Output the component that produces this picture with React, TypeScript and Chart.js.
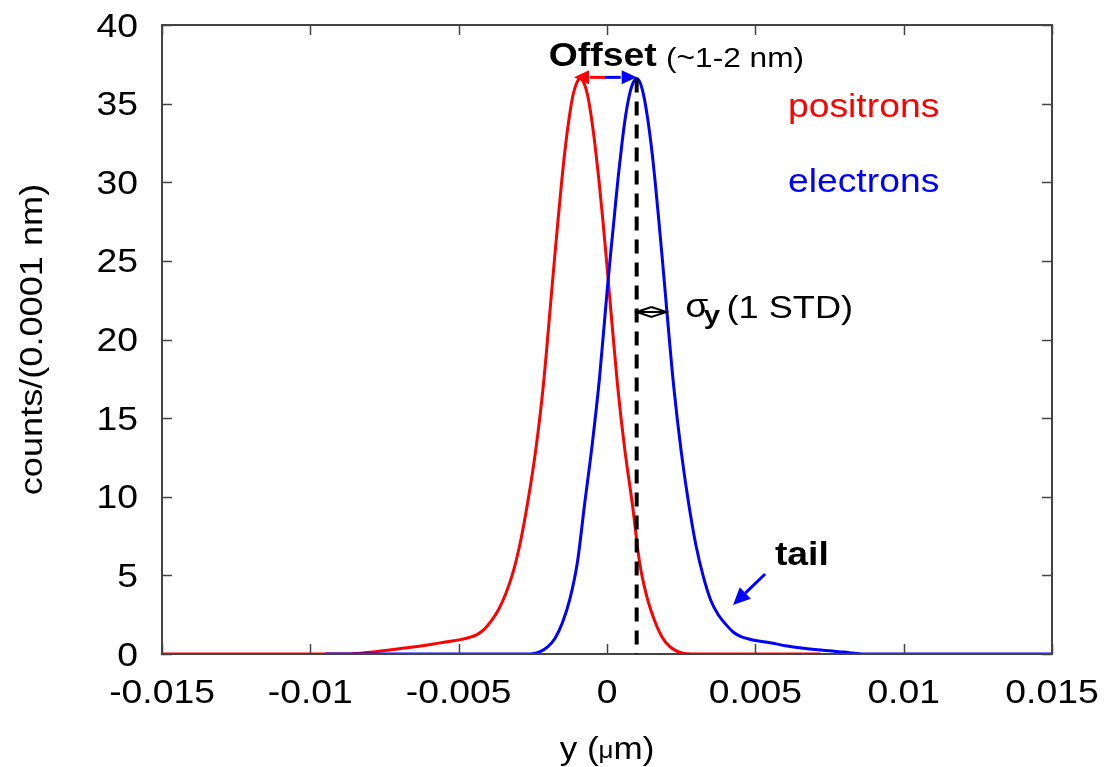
import React, { useEffect, useRef } from "react";
import { Chart, registerables } from "chart.js";

Chart.register(...registerables);

// ---------- data (x in µm, y in counts/(0.0001 nm)) ----------
const POSITRON_X = [
  -0.015, -0.00865, -0.0084, -0.0079, -0.0074, -0.0069, -0.0064, -0.0059, -0.0054, -0.0049,
  -0.00465, -0.0044, -0.00415, -0.0039, -0.00365, -0.0034, -0.00315, -0.0029, -0.00265, -0.0024,
  -0.00215, -0.0019, -0.001775, -0.00165, -0.001525, -0.0014, -0.001275, -0.00115, -0.001025, -0.0009,
  -0.000775, -0.00065, -0.000525, -0.0004, -0.000275, -0.00015, -0.000025, 0.0001, 0.00035, 0.0006,
  0.00085, 0.0011, 0.00135, 0.0016, 0.00185, 0.0021, 0.00235, 0.0026, 0.00285, 0.0072,
];
const POSITRON_Y = [
  0, 0, 0.04, 0.13, 0.24, 0.36, 0.48, 0.62, 0.78, 0.93,
  1.05, 1.22, 1.55, 2.1, 2.85, 3.9, 5.3, 7.3, 9.9, 13.0,
  17.0, 22.3, 25.0, 27.6, 30.1, 32.3, 34.1, 35.5, 36.3, 36.6,
  36.3, 35.5, 34.1, 32.3, 30.2, 27.8, 25.2, 22.5, 17.2, 13.0,
  9.6, 5.8, 3.6, 2.15, 1.1, 0.5, 0.18, 0.03, 0, 0,
];

const ELECTRON_X = [
  -0.0095, -0.00275, -0.0025, -0.00225, -0.002, -0.00175, -0.0015, -0.00125, -0.001, -0.00075,
  -0.0005, -0.00025, 0, 0.000125, 0.00025, 0.000375, 0.0005, 0.000625, 0.00075, 0.000875,
  0.001, 0.001125, 0.00125, 0.001375, 0.0015, 0.001625, 0.00175, 0.001875, 0.002, 0.00225,
  0.0025, 0.00275, 0.003, 0.00325, 0.0035, 0.00375, 0.004, 0.00425, 0.0045, 0.00475,
  0.005, 0.0055, 0.006, 0.0065, 0.007, 0.0075, 0.008, 0.00825, 0.0085, 0.00875,
  0.015,
];
const ELECTRON_Y = [
  0, 0, 0.02, 0.15, 0.45, 1.0, 2.0, 3.5, 5.8, 9.6,
  13.3, 17.6, 23.0, 25.5, 27.9, 30.3, 32.4, 34.2, 35.5, 36.3,
  36.6, 36.3, 35.4, 34.0, 32.2, 30.0, 27.5, 24.9, 22.2, 17.0,
  12.9, 9.6, 6.9, 4.9, 3.4, 2.5, 1.9, 1.4, 1.12, 0.97,
  0.86, 0.72, 0.53, 0.4, 0.29, 0.2, 0.12, 0.07, 0.02, 0,
  0,
];

const X_TICKS = [-0.015, -0.01, -0.005, 0, 0.005, 0.01, 0.015];
const X_TICK_LABELS = ["-0.015", "-0.01", "-0.005", "0", "0.005", "0.01", "0.015"];
const Y_TICKS = [0, 5, 10, 15, 20, 25, 30, 35, 40];
const Y_TICK_LABELS = ["0", "5", "10", "15", "20", "25", "30", "35", "40"];

const X_TITLE_PARTS = ["y (", "\u03bc", "m)"];
const Y_TITLE = "counts/(0.0001 nm)";
const SERIES_NAMES = ["positrons", "electrons"];

// annotations, in data coordinates
const OFFSET_ARROW = { left: -0.00111, mid: -0.00007, right: 0.001, y: 36.67 };
const DASH_LINE = { x: 0.001, y0: 0, y1: 36.6 };
const SIGMA_ARROW = { x0: 0.001, x1: 0.002, y: 21.75 };
const TAIL_ARROW = { x0: 0.00533, y0: 5.09, x1: 0.00425, y1: 3.12 };
const OFFSET_LABEL = { x: -0.00196, y: 37.39, text: "Offset" };
const OFFSET_NOTE = { x: 0.00199, y: 37.3, text: "(~1-2 nm)" };
const POS_LABEL = { x: 0.0061, y: 34.15 };
const ELE_LABEL = { x: 0.0061, y: 29.38 };
const SIGMA_LABEL = { x: 0.00264, y: 21.45, sub: { x: 0.00326, y: 20.97 }, rest: { x: 0.00403, y: 21.34, text: "(1 STD)" } };
const TAIL_LABEL = { x: 0.00566, y: 5.66, text: "tail" };

const RED = "#ff0000";
const BLUE = "#0000ff";
const FRAME = "#444444";
const FF = '"Liberation Sans", Arial, Helvetica, sans-serif';
const SX = 1.13;

function stretchText(ctx: CanvasRenderingContext2D, s: string, x: number, y: number, font: string, color: string, align = "left") {
  ctx.save();
  ctx.font = font;
  ctx.fillStyle = color;
  ctx.textBaseline = "alphabetic";
  ctx.textAlign = "left";
  const w = ctx.measureText(s).width * SX;
  let x0 = x;
  if (align === "center") x0 = x - w / 2;
  else if (align === "right") x0 = x - w;
  ctx.translate(x0, y);
  ctx.scale(SX, 1);
  ctx.fillText(s, 0, 0);
  ctx.restore();
  return w;
}

function filledHead(ctx: CanvasRenderingContext2D, tx: number, ty: number, fx: number, fy: number, len: number, half: number, color: string) {
  const a = Math.atan2(ty - fy, tx - fx);
  const bx = tx - len * Math.cos(a);
  const by = ty - len * Math.sin(a);
  ctx.save();
  ctx.fillStyle = color;
  ctx.beginPath();
  ctx.moveTo(tx, ty);
  ctx.lineTo(bx + half * Math.sin(a), by - half * Math.cos(a));
  ctx.lineTo(bx - half * Math.sin(a), by + half * Math.cos(a));
  ctx.closePath();
  ctx.fill();
  ctx.restore();
  return { bx, by };
}

const framePlugin = {
  id: "frameTicks",
  afterDatasetsDraw(chart: any) {
    const { ctx, chartArea: a, scales } = chart;
    const xs = scales.x;
    const ys = scales.y;
    ctx.save();
    ctx.strokeStyle = FRAME;
    ctx.lineWidth = 1.5;
    const L = 10;
    ctx.beginPath();
    X_TICKS.forEach((v) => {
      const px = Math.round(xs.getPixelForValue(v)) + 0.5;
      ctx.moveTo(px, a.bottom);
      ctx.lineTo(px, a.bottom - L);
      ctx.moveTo(px, a.top);
      ctx.lineTo(px, a.top + L);
    });
    Y_TICKS.forEach((v) => {
      const py = Math.round(ys.getPixelForValue(v)) + 0.5;
      ctx.moveTo(a.left, py);
      ctx.lineTo(a.left + L, py);
      ctx.moveTo(a.right, py);
      ctx.lineTo(a.right - L, py);
    });
    ctx.stroke();
    ctx.lineWidth = 2;
    ctx.strokeRect(a.left, a.top, a.right - a.left, a.bottom - a.top);
    ctx.restore();

    // tick labels
    const tickFont = `33px ${FF}`;
    X_TICKS.forEach((v, i) => {
      stretchText(ctx, X_TICK_LABELS[i], xs.getPixelForValue(v), a.bottom + 49, tickFont, "#000", "center");
    });
    Y_TICKS.forEach((v, i) => {
      stretchText(ctx, Y_TICK_LABELS[i], a.left - 24, ys.getPixelForValue(v) + 11.5, tickFont, "#000", "right");
    });

    // axis titles
    const cx = (a.left + a.right) / 2;
    const big = `31px ${FF}`;
    const small = `23px ${FF}`;
    ctx.save();
    ctx.font = big;
    const w1 = ctx.measureText(X_TITLE_PARTS[0]).width * SX;
    const w3 = ctx.measureText(X_TITLE_PARTS[2]).width * SX;
    ctx.font = small;
    const w2 = ctx.measureText(X_TITLE_PARTS[1]).width * SX;
    ctx.restore();
    let tx = cx - (w1 + w2 + w3) / 2;
    const tb = 759;
    tx += stretchText(ctx, X_TITLE_PARTS[0], tx, tb, big, "#000");
    tx += stretchText(ctx, X_TITLE_PARTS[1], tx, tb - 1, small, "#000");
    stretchText(ctx, X_TITLE_PARTS[2], tx, tb, big, "#000");

    ctx.save();
    ctx.translate(42, (a.top + a.bottom) / 2);
    ctx.rotate(-Math.PI / 2);
    stretchText(ctx, Y_TITLE, 0, 0, `32px ${FF}`, "#000", "center");
    ctx.restore();
  },
};

const annotationPlugin = {
  id: "annotations",
  afterDraw(chart: any) {
    const { ctx, scales } = chart;
    const X = (v: number) => scales.x.getPixelForValue(v);
    const Y = (v: number) => scales.y.getPixelForValue(v);

    // dashed line at electron peak
    ctx.save();
    ctx.strokeStyle = "#000";
    ctx.lineWidth = 4;
    ctx.setLineDash([14, 9]);
    ctx.beginPath();
    ctx.moveTo(X(DASH_LINE.x), Y(DASH_LINE.y1));
    ctx.lineTo(X(DASH_LINE.x), Y(DASH_LINE.y0));
    ctx.stroke();
    ctx.restore();

    // offset arrow (red to the left, blue to the right)
    const oy = Y(OFFSET_ARROW.y);
    const mx = X(OFFSET_ARROW.mid);
    const lx = X(OFFSET_ARROW.left);
    const rx = X(OFFSET_ARROW.right);
    ctx.save();
    ctx.lineWidth = 3;
    const hl = filledHead(ctx, lx, oy, mx, oy, 15, 7, RED);
    ctx.strokeStyle = RED;
    ctx.beginPath();
    ctx.moveTo(mx, oy);
    ctx.lineTo(hl.bx + 1, oy);
    ctx.stroke();
    const hr = filledHead(ctx, rx, oy, mx, oy, 15, 7, BLUE);
    ctx.strokeStyle = BLUE;
    ctx.beginPath();
    ctx.moveTo(mx, oy);
    ctx.lineTo(hr.bx - 1, oy);
    ctx.stroke();
    ctx.restore();

    // sigma double arrow (open heads)
    const sy = Y(SIGMA_ARROW.y);
    const s0 = X(SIGMA_ARROW.x0);
    const s1 = X(SIGMA_ARROW.x1);
    const sm = (s0 + s1) / 2;
    ctx.save();
    ctx.strokeStyle = "#000";
    ctx.lineWidth = 2;
    ctx.beginPath();
    ctx.moveTo(s0, sy);
    ctx.lineTo(s1, sy);
    ctx.moveTo(sm, sy - 5);
    ctx.lineTo(s0, sy);
    ctx.lineTo(sm, sy + 5);
    ctx.lineTo(s1, sy);
    ctx.lineTo(sm, sy - 5);
    ctx.stroke();
    ctx.restore();

    // tail arrow
    const ax0 = X(TAIL_ARROW.x0), ay0 = Y(TAIL_ARROW.y0);
    const ax1 = X(TAIL_ARROW.x1), ay1 = Y(TAIL_ARROW.y1);
    ctx.save();
    const th = filledHead(ctx, ax1, ay1, ax0, ay0, 17, 8, BLUE);
    ctx.strokeStyle = BLUE;
    ctx.lineWidth = 3;
    ctx.beginPath();
    ctx.moveTo(ax0, ay0);
    ctx.lineTo(th.bx, th.by);
    ctx.stroke();
    ctx.restore();

    // texts
    stretchText(ctx, OFFSET_LABEL.text, X(OFFSET_LABEL.x), Y(OFFSET_LABEL.y), `bold 33px ${FF}`, "#000");
    stretchText(ctx, OFFSET_NOTE.text, X(OFFSET_NOTE.x), Y(OFFSET_NOTE.y), `28px ${FF}`, "#000");
    stretchText(ctx, SERIES_NAMES[0], X(POS_LABEL.x), Y(POS_LABEL.y), `33px ${FF}`, RED);
    stretchText(ctx, SERIES_NAMES[1], X(ELE_LABEL.x), Y(ELE_LABEL.y), `33px ${FF}`, BLUE);
    stretchText(ctx, "\u03c3", X(SIGMA_LABEL.x), Y(SIGMA_LABEL.y), `33px ${FF}`, "#000");
    stretchText(ctx, "y", X(SIGMA_LABEL.sub.x), Y(SIGMA_LABEL.sub.y), `bold 26px ${FF}`, "#000");
    stretchText(ctx, SIGMA_LABEL.rest.text, X(SIGMA_LABEL.rest.x), Y(SIGMA_LABEL.rest.y), `32px ${FF}`, "#000");
    stretchText(ctx, TAIL_LABEL.text, X(TAIL_LABEL.x), Y(TAIL_LABEL.y), `bold 33px ${FF}`, "#000");
  },
};

export default function App() {
  const canvasRef = useRef<HTMLCanvasElement | null>(null);

  useEffect(() => {
    const canvas = canvasRef.current;
    if (!canvas) return;
    const chart = new Chart(canvas, {
      type: "line",
      data: {
        datasets: [
          {
            label: SERIES_NAMES[1],
            data: ELECTRON_X.map((x, i) => ({ x, y: ELECTRON_Y[i] })),
            borderColor: BLUE,
            borderWidth: 3,
            pointRadius: 0,
            fill: false,
            cubicInterpolationMode: "monotone",
          },
          {
            label: SERIES_NAMES[0],
            data: POSITRON_X.map((x, i) => ({ x, y: POSITRON_Y[i] })),
            borderColor: RED,
            borderWidth: 3,
            pointRadius: 0,
            fill: false,
            cubicInterpolationMode: "monotone",
          },
        ],
      },
      options: {
        animation: false,
        responsive: false,
        devicePixelRatio: 1,
        layout: { padding: { left: 0, top: 25, right: 67, bottom: 0 } },
        plugins: { legend: { display: false }, tooltip: { enabled: false } },
        events: [],
        scales: {
          x: {
            type: "linear",
            min: -0.015,
            max: 0.015,
            ticks: { display: false, stepSize: 0.005 },
            grid: { display: false },
            border: { display: false },
            afterFit: (s: any) => {
              s.height = 113;
            },
          },
          y: {
            type: "linear",
            min: 0,
            max: 40,
            ticks: { display: false, stepSize: 5 },
            grid: { display: false },
            border: { display: false },
            afterFit: (s: any) => {
              s.width = 162;
            },
          },
        },
      } as any,
      plugins: [framePlugin, annotationPlugin],
    });
    return () => chart.destroy();
  }, []);

  return (
    <div style={{ position: "absolute", left: 0, top: 0, width: 1119, height: 767, background: "#fff" }}>
      <canvas ref={canvasRef} width={1119} height={767} style={{ display: "block", width: 1119, height: 767 }} />
    </div>
  );
}
